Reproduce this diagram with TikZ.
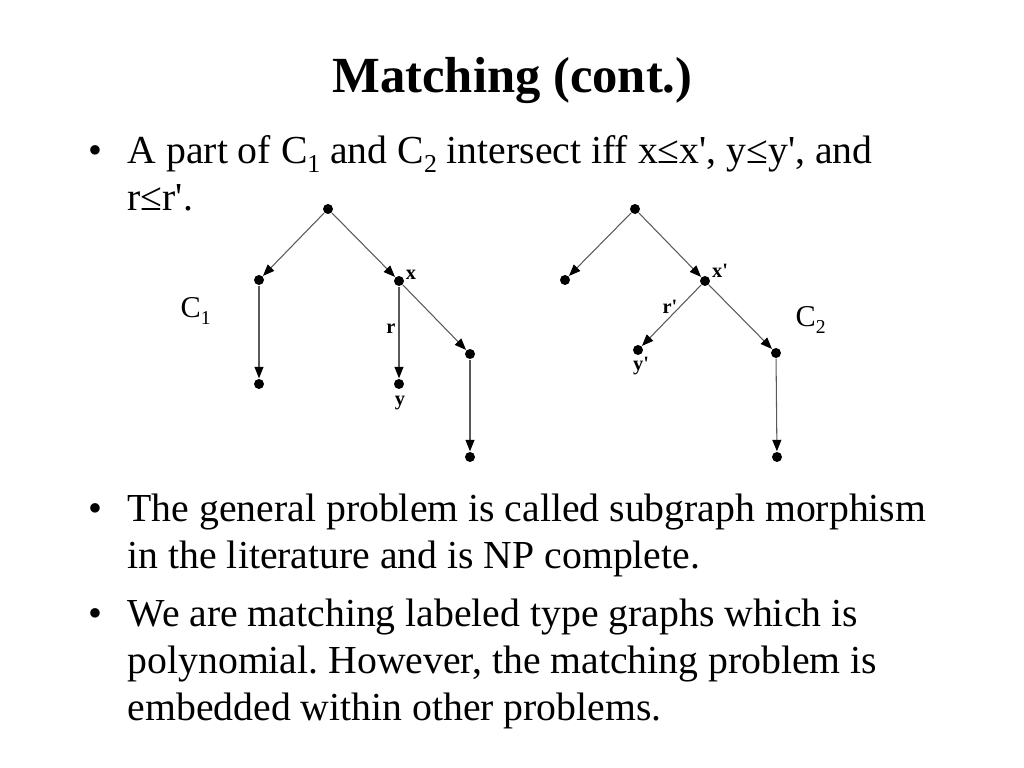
\documentclass[tikz,border=0pt]{standalone}
\usepackage{fontspec}
\setmainfont{Liberation Serif}
\usetikzlibrary{arrows.meta}
\frenchspacing
\newcommand{\prm}{\textquotesingle}
\newcommand{\lowsub}[1]{\raisebox{-0.22em}{\scalebox{0.65}{#1}}}

\begin{document}
\begin{tikzpicture}[
        dot/.style={circle, fill=black, inner sep=0pt, minimum size=0.1cm},
        arc/.style={draw=black!65, line width=0.3pt, -{Triangle[length=1.15mm,width=0.9mm,color=black]}},
        bodytext/.style={anchor=base west, inner sep=0pt, font=\fontsize{11.3}{13.5}\selectfont},
        bulletmark/.style={anchor=base, inner sep=0pt, font=\fontsize{11.3}{13.5}\selectfont},
        lbl/.style={anchor=base, inner sep=0pt, font=\fontsize{5.8}{7}\selectfont\bfseries},
        cname/.style={anchor=base west, inner sep=0pt, font=\fontsize{8.6}{10}\selectfont}
    ]
        \useasboundingbox (0, 0) rectangle (10.24, 7.68);

        \node[anchor=base, inner sep=0pt, font=\fontsize{14.4}{17}\selectfont\bfseries] (title) at (5.125, 6.75) {Matching (cont.)};

        \node[bulletmark] (b1) at (0.95, 6.04) {\textbullet};
        \node[bodytext] (l1) at (1.27, 6.04) {A part of C\lowsub{1} and C\lowsub{2} intersect iff x≤x\prm, y≤y\prm, and};
        \node[bodytext] (l2) at (1.27, 5.57) {r≤r\prm.};

        \node[bulletmark] (b2) at (0.95, 2.46) {\textbullet};
        \node[bodytext] (l3) at (1.27, 2.46) {The general problem is called subgraph morphism};
        \node[bodytext] (l4) at (1.27, 1.99) {in the literature and is NP complete.};

        \node[bulletmark] (b3) at (0.95, 1.41) {\textbullet};
        \node[bodytext] (l5) at (1.27, 1.41) {We are matching labeled type graphs which is};
        \node[bodytext] (l6) at (1.27, 0.94) {polynomial. However, the matching problem is};
        \node[bodytext] (l7) at (1.27, 0.47) {embedded within other problems.};

        \node[dot] (ra) at (3.28, 5.59) {};
        \node[dot] (la) at (2.59, 4.88) {};
        \node[dot] (xa) at (3.99, 4.87) {};
        \node[dot] (lla) at (2.59, 3.84) {};
        \node[dot] (ya) at (3.99, 3.84) {};
        \node[dot] (ka) at (4.70, 4.14) {};
        \node[dot] (kka) at (4.70, 3.11) {};

        \draw[arc] (ra) -- (la);
        \draw[arc] (ra) -- (xa);
        \draw[arc] (la) -- (lla);
        \draw[arc] (xa) -- (ya);
        \draw[arc] (xa) -- (ka);
        \draw[arc] (ka) -- (kka);

        \node[lbl] (xlbl) at (4.11, 4.88) {x};
        \node[lbl] (rlbl) at (3.91, 4.34) {r};
        \node[lbl] (ylbl) at (4.00, 3.62) {y};
        \node[cname] (cone) at (1.80, 4.50) {C\lowsub{1}};

        \node[dot] (rb) at (6.35, 5.59) {};
        \node[dot] (lb) at (5.65, 4.88) {};
        \node[dot] (xb) at (7.05, 4.87) {};
        \node[dot] (yb) at (6.38, 4.18) {};
        \node[dot] (kb) at (7.76, 4.15) {};
        \node[dot] (kkb) at (7.77, 3.11) {};

        \draw[arc] (rb) -- (lb);
        \draw[arc] (rb) -- (xb);
        \draw[arc] (xb) -- (yb);
        \draw[arc] (xb) -- (kb);
        \draw[arc] (kb) -- (kkb);

        \node[lbl] (xplbl) at (7.20, 4.90) {x\prm};
        \node[lbl] (rplbl) at (6.70, 4.54) {r\prm};
        \node[lbl] (yplbl) at (6.41, 3.97) {y\prm};
        \node[cname] (ctwo) at (7.95, 4.41) {C\lowsub{2}};

    \end{tikzpicture}
\end{document}
